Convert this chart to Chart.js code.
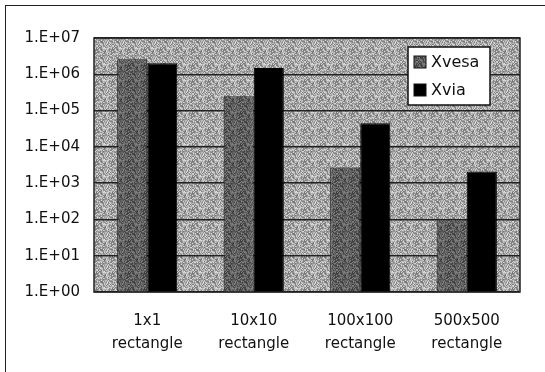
<!DOCTYPE html>
<html>
<head>
<meta charset="utf-8">
<script src="https://cdn.jsdelivr.net/npm/chart.js@4"></script>
<style>
  html, body { margin: 0; padding: 0; background: #fff; }
  #wrap { position: relative; width: 545px; height: 372px; overflow: hidden; }
  #frame { position: absolute; left: 5px; top: 5px; width: 560px; height: 400px;
           border-left: 1.5px solid #222; border-top: 1.5px solid #222; pointer-events: none; }
</style>
</head>
<body>
<div id="wrap">
  <canvas id="chart" width="545" height="372"></canvas>
  <div id="frame"></div>
</div>
<script>
const categories = [["1x1", "rectangle"], ["10x10", "rectangle"], ["100x100", "rectangle"], ["500x500", "rectangle"]];
const xvesa = [2.6e6, 2.5e5, 2.7e3, 1.0e2];
const xvia = [2.0e6, 1.5e6, 4.5e4, 2.1e3];
const tickValues = [1, 10, 100, 1e3, 1e4, 1e5, 1e6, 1e7];

// grey stipple texture from a fixed integer hash (styling only)
function makePattern(base, spread) {
  const n = 16;
  const c = document.createElement("canvas");
  c.width = n; c.height = n;
  const g = c.getContext("2d");
  for (let y = 0; y < n; y++) {
    for (let x = 0; x < n; x++) {
      let h = (x * 374761393 + y * 668265263) | 0;
      h = Math.imul(h ^ (h >>> 13), 1274126177);
      const t = ((h ^ (h >>> 16)) >>> 0) % 1000 / 1000;
      const v = Math.round(base + (t - 0.5) * spread);
      g.fillStyle = `rgb(${v},${v},${v})`;
      g.fillRect(x, y, 1, 1);
    }
  }
  return g.createPattern(c, "repeat");
}
const plotBg = makePattern(168, 110);
const vesaBg = makePattern(95, 80);

const ctx = document.getElementById("chart").getContext("2d");

const plotStuff = {
  id: "plotStuff",
  beforeDraw(chart) {
    const a = chart.chartArea;
    const c = chart.ctx;
    c.save();
    c.fillStyle = plotBg;
    c.fillRect(a.left, a.top, a.right - a.left, a.bottom - a.top);
    c.restore();
  },
  afterDatasetsDraw(chart) {
    const a = chart.chartArea;
    const c = chart.ctx;
    c.save();
    c.strokeStyle = "#222";
    c.lineWidth = 1.5;
    c.strokeRect(a.left, a.top, a.right - a.left, a.bottom - a.top);
    c.restore();
  },
  afterDraw(chart) {
    // legend box inside the plot
    const c = chart.ctx;
    const x = 408, y = 47, w = 82, h = 58;
    c.save();
    c.fillStyle = "#fff";
    c.fillRect(x, y, w, h);
    c.strokeStyle = "#111";
    c.lineWidth = 1.5;
    c.strokeRect(x, y, w, h);
    c.font = "16px 'DejaVu Sans'";
    c.textBaseline = "middle";
    chart.data.datasets.forEach((ds, i) => {
      const cy = y + 15 + i * 28;
      c.fillStyle = ds.backgroundColor;
      c.fillRect(x + 6, cy - 6, 12, 12);
      c.strokeStyle = "#111";
      c.lineWidth = 1;
      c.strokeRect(x + 6, cy - 6, 12, 12);
      c.fillStyle = "#111";
      c.fillText(ds.label, x + 23, cy + 1);
    });
    c.restore();
  }
};

new Chart(ctx, {
  type: "bar",
  data: {
    labels: categories,
    datasets: [
      { label: "Xvesa", data: xvesa, backgroundColor: vesaBg, borderColor: "#222", borderWidth: 1 },
      { label: "Xvia", data: xvia, backgroundColor: "#000", borderColor: "#000", borderWidth: 1 }
    ]
  },
  options: {
    responsive: false,
    animation: false,
    events: [],
    layout: { padding: { top: 38, right: 25, left: 0, bottom: 0 } },
    datasets: { bar: { categoryPercentage: 0.565, barPercentage: 1 } },
    plugins: { legend: { display: false }, tooltip: { enabled: false } },
    scales: {
      x: {
        grid: { display: false, drawTicks: false },
        border: { display: false },
        ticks: { color: "#111", padding: 18, font: { family: "DejaVu Sans", size: 15, lineHeight: 1.5 }, maxRotation: 0 },
        afterFit(s) { s.height = 80; }
      },
      y: {
        type: "logarithmic",
        min: 1,
        max: 1e7,
        afterBuildTicks(s) { s.ticks = tickValues.map((v) => ({ value: v })); },
        afterFit(s) { s.width = 94; },
        grid: { color: "#222", lineWidth: 1.5, drawTicks: false },
        border: { display: false },
        ticks: {
          color: "#111",
          padding: 14,
          font: { family: "DejaVu Sans", size: 15 },
          callback: (v) => "1.E+" + String(Math.round(Math.log10(v))).padStart(2, "0")
        }
      }
    }
  },
  plugins: [plotStuff]
});
</script>
</body>
</html>
